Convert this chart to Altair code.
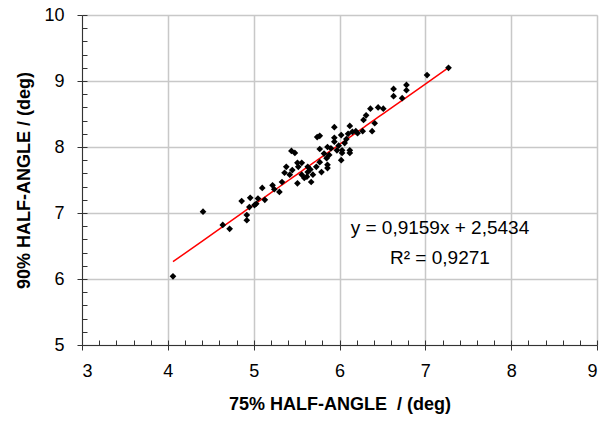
import altair as alt
import pandas as pd

x75 = [4.06, 4.41, 4.64, 4.72, 4.86, 4.92, 4.92, 4.95, 4.96, 5.01, 5.03, 5.05,
       5.10, 5.13, 5.22, 5.24, 5.30, 5.33, 5.36, 5.38, 5.42, 5.44, 5.48, 5.45,
       5.51, 5.51, 5.52, 5.56, 5.56, 5.59, 5.62, 5.63, 5.63, 5.66, 5.67, 5.69,
       5.73, 5.74, 5.77, 5.77, 5.79, 5.77, 5.82, 5.85, 5.86, 5.86, 5.86, 5.88,
       5.90, 5.94, 5.94, 5.94, 5.97, 5.99, 6.02, 6.02, 6.03, 6.03, 6.06, 6.08,
       6.10, 6.12, 6.12, 6.12, 6.15, 6.21, 6.19, 6.27, 6.28, 6.31, 6.36, 6.38,
       6.41, 6.45, 6.51, 6.63, 6.63, 6.73, 6.78, 6.78, 7.02, 7.27]
y90 = [6.04, 7.02, 6.82, 6.76, 7.18, 6.97, 6.89, 7.09, 7.23, 7.12, 7.14, 7.22,
       7.38, 7.20, 7.42, 7.36, 7.32, 7.47, 7.61, 7.70, 7.58, 7.94, 7.91, 7.65,
       7.76, 7.45, 7.70, 7.58, 7.76, 7.53, 7.55, 7.70, 7.62, 7.66, 7.47, 7.58,
       7.70, 8.15, 8.17, 7.77, 7.62, 7.97, 7.90, 7.83, 7.73, 7.68, 8.00, 7.88,
       7.98, 8.08, 8.14, 8.30, 7.95, 8.02, 8.18, 7.80, 7.91, 7.95, 8.06, 8.12,
       8.20, 8.32, 7.91, 7.95, 8.23, 8.21, 8.24, 8.24, 8.41, 8.48, 8.58, 8.24,
       8.36, 8.60, 8.58, 8.88, 8.77, 8.74, 8.94, 8.86, 9.09, 9.20]

slope = 0.9159
intercept = 2.5434
eq_labels = ["y = 0,9159x + 2,5434", "R\u00b2 = 0,9271"]
eq_x = [7.17, 7.17]
eq_y = [6.77, 6.32]

x_major = [3, 4, 5, 6, 7, 8, 9]
y_major = [5, 6, 7, 8, 9, 10]
x_minor = [round(3 + 0.2 * i, 1) for i in range(31)]
y_minor = [round(5 + 0.2 * i, 1) for i in range(26)]

df = pd.DataFrame({"x": x75, "y": y90})
ann = pd.DataFrame({"x": eq_x, "y": eq_y, "t": eq_labels})

font = "Liberation Sans"
xs = alt.Scale(domain=[3, 9], nice=False, zero=False)
ys = alt.Scale(domain=[5, 10], nice=False, zero=False)

base = alt.Chart(df)

pts = base.mark_point(shape="diamond", filled=True, color="black", size=45, opacity=1).encode(
    x=alt.X("x:Q", scale=xs, axis=alt.Axis(
        values=x_major, title="75% HALF-ANGLE\u00a0\u00a0/ (deg)", orient="bottom",
        grid=True, gridColor="#c8c8c8", gridWidth=1.5, domainColor="#333", tickColor="#333",
        tickSize=5, labelFontSize=18, labelFont=font, labelColor="#000", labelPadding=12,
        titleFont=font, titleFontSize=18, titleFontWeight="bold", titleColor="#000", titlePadding=15)),
    y=alt.Y("y:Q", scale=ys, axis=alt.Axis(
        values=y_major, title="90% HALF-ANGLE / (deg)", orient="left",
        grid=True, gridColor="#c8c8c8", gridWidth=1.5, domainColor="#333", tickColor="#333",
        tickSize=5, labelFontSize=18, labelFont=font, labelColor="#000", labelPadding=13,
        titleFont=font, titleFontSize=18, titleFontWeight="bold", titleColor="#000", titlePadding=10)),
)

minor = base.mark_point(opacity=0).encode(
    x=alt.X("x:Q", scale=xs, axis=alt.Axis(
        values=x_minor, orient="bottom", offset=-5, tickSize=5, domain=False, labels=False,
        grid=False, title=None, tickColor="#333")),
    y=alt.Y("y:Q", scale=ys, axis=alt.Axis(
        values=y_minor, orient="left", offset=-5, tickSize=5, domain=False, labels=False,
        grid=False, title=None, tickColor="#333")),
)

line = base.transform_calculate(yf=f"{slope}*datum.x + {intercept}").mark_line(
    color="red", strokeWidth=1.5).encode(
    x=alt.X("x:Q", scale=xs, axis=None),
    y=alt.Y("yf:Q", scale=ys, axis=None),
    order="x:Q",
)

txt = alt.Chart(ann).mark_text(font=font, fontSize=19, color="#000", align="center").encode(
    x=alt.X("x:Q", scale=xs, axis=None),
    y=alt.Y("y:Q", scale=ys, axis=None),
    text="t:N",
)

chart = alt.layer(minor, line, pts, txt).resolve_axis(x="independent", y="independent").properties(
    width=515, height=330,
    autosize=alt.AutoSizeParams(type="none"),
    padding={"left": 82, "top": 15, "right": 13, "bottom": 78},
).configure_view(stroke=None).configure(background="white")

chart.save("out.html", embed_options={"renderer": "svg", "actions": False})
